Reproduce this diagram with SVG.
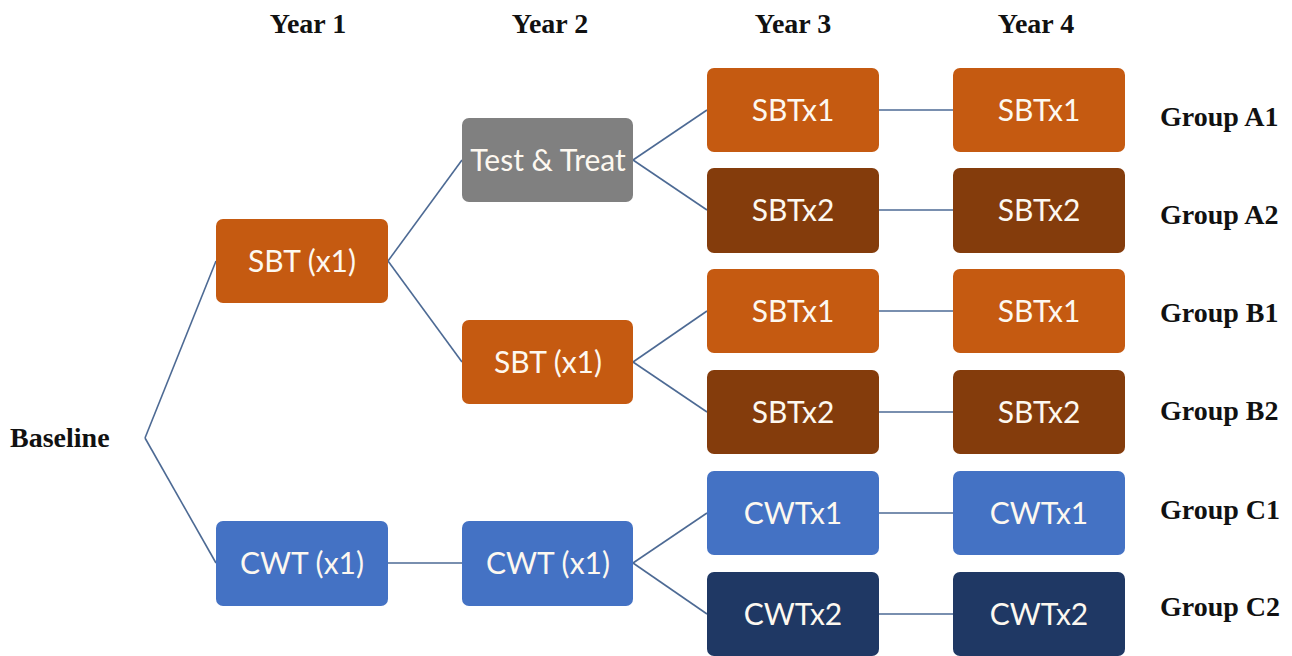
<svg xmlns="http://www.w3.org/2000/svg" width="1292" height="656" viewBox="0 0 1292 656">
<style>
.lbl{font-family:"Liberation Serif","Times New Roman",serif;font-weight:bold;font-size:28px;fill:#111}
.hd{text-anchor:middle}
.box{stroke:none}
.bt{font-family:Lato,"Open Sans",sans-serif;font-size:30px;fill:#fdf8f0;text-anchor:middle}
.or{fill:#C55A11}
.br{fill:#843C0C}
.gr{fill:#808080}
.bl{fill:#4472C4}
.nv{fill:#1F3864}
#connectors line{stroke:#4d6a94;stroke-width:1.6;fill:none}
</style>
<rect width="1292" height="656" fill="#fff"/>
<g id="headers">
<text class="lbl hd" x="308" y="33">Year 1</text>
<text class="lbl hd" x="550" y="33">Year 2</text>
<text class="lbl hd" x="793" y="33">Year 3</text>
<text class="lbl hd" x="1036" y="33">Year 4</text>
</g>
<g id="baseline"><text class="lbl" x="10" y="447">Baseline</text></g>
<g id="connectors">
<line x1="145" y1="438" x2="216" y2="261"/>
<line x1="145" y1="438" x2="216" y2="563"/>
<line x1="388" y1="261" x2="462" y2="160"/>
<line x1="388" y1="261" x2="462" y2="362"/>
<line x1="633" y1="160" x2="707" y2="110"/>
<line x1="633" y1="160" x2="707" y2="210"/>
<line x1="633" y1="362" x2="707" y2="311"/>
<line x1="633" y1="362" x2="707" y2="412"/>
<line x1="388" y1="563" x2="462" y2="563"/>
<line x1="633" y1="563" x2="707" y2="513"/>
<line x1="633" y1="563" x2="707" y2="614"/>
<line x1="879" y1="110" x2="953" y2="110"/>
<line x1="879" y1="210" x2="953" y2="210"/>
<line x1="879" y1="311" x2="953" y2="311"/>
<line x1="879" y1="412" x2="953" y2="412"/>
<line x1="879" y1="513" x2="953" y2="513"/>
<line x1="879" y1="614" x2="953" y2="614"/>
</g>
<g id="y1-sbt"><rect class="box or" x="216" y="219" width="172" height="84" rx="7"/><text class="bt" x="302" y="272">SBT (x1)</text></g>
<g id="y1-cwt"><rect class="box bl" x="216" y="521" width="172" height="85" rx="7"/><text class="bt" x="302" y="574">CWT (x1)</text></g>
<g id="y2-tt"><rect class="box gr" x="462" y="118" width="171" height="84" rx="7"/><text class="bt" x="548" y="171">Test &amp; Treat</text></g>
<g id="y2-sbt"><rect class="box or" x="462" y="320" width="171" height="84" rx="7"/><text class="bt" x="548" y="373">SBT (x1)</text></g>
<g id="y2-cwt"><rect class="box bl" x="462" y="521" width="171" height="85" rx="7"/><text class="bt" x="548" y="574">CWT (x1)</text></g>
<g id="y3-a1"><rect class="box or" x="707" y="68" width="172" height="84" rx="7"/><text class="bt" x="793" y="121">SBTx1</text></g>
<g id="y3-a2"><rect class="box br" x="707" y="168" width="172" height="85" rx="7"/><text class="bt" x="793" y="221">SBTx2</text></g>
<g id="y3-b1"><rect class="box or" x="707" y="269" width="172" height="84" rx="7"/><text class="bt" x="793" y="322">SBTx1</text></g>
<g id="y3-b2"><rect class="box br" x="707" y="370" width="172" height="84" rx="7"/><text class="bt" x="793" y="423">SBTx2</text></g>
<g id="y3-c1"><rect class="box bl" x="707" y="471" width="172" height="84" rx="7"/><text class="bt" x="793" y="524">CWTx1</text></g>
<g id="y3-c2"><rect class="box nv" x="707" y="572" width="172" height="84" rx="7"/><text class="bt" x="793" y="625">CWTx2</text></g>
<g id="y4-a1"><rect class="box or" x="953" y="68" width="172" height="84" rx="7"/><text class="bt" x="1039" y="121">SBTx1</text></g>
<g id="y4-a2"><rect class="box br" x="953" y="168" width="172" height="85" rx="7"/><text class="bt" x="1039" y="221">SBTx2</text></g>
<g id="y4-b1"><rect class="box or" x="953" y="269" width="172" height="84" rx="7"/><text class="bt" x="1039" y="322">SBTx1</text></g>
<g id="y4-b2"><rect class="box br" x="953" y="370" width="172" height="84" rx="7"/><text class="bt" x="1039" y="423">SBTx2</text></g>
<g id="y4-c1"><rect class="box bl" x="953" y="471" width="172" height="84" rx="7"/><text class="bt" x="1039" y="524">CWTx1</text></g>
<g id="y4-c2"><rect class="box nv" x="953" y="572" width="172" height="84" rx="7"/><text class="bt" x="1039" y="625">CWTx2</text></g>
<g id="groups">
<text class="lbl" x="1160" y="126">Group A1</text>
<text class="lbl" x="1160" y="224">Group A2</text>
<text class="lbl" x="1160" y="322">Group B1</text>
<text class="lbl" x="1160" y="420">Group B2</text>
<text class="lbl" x="1160" y="519">Group C1</text>
<text class="lbl" x="1160" y="616">Group C2</text>
</g>
</svg>
